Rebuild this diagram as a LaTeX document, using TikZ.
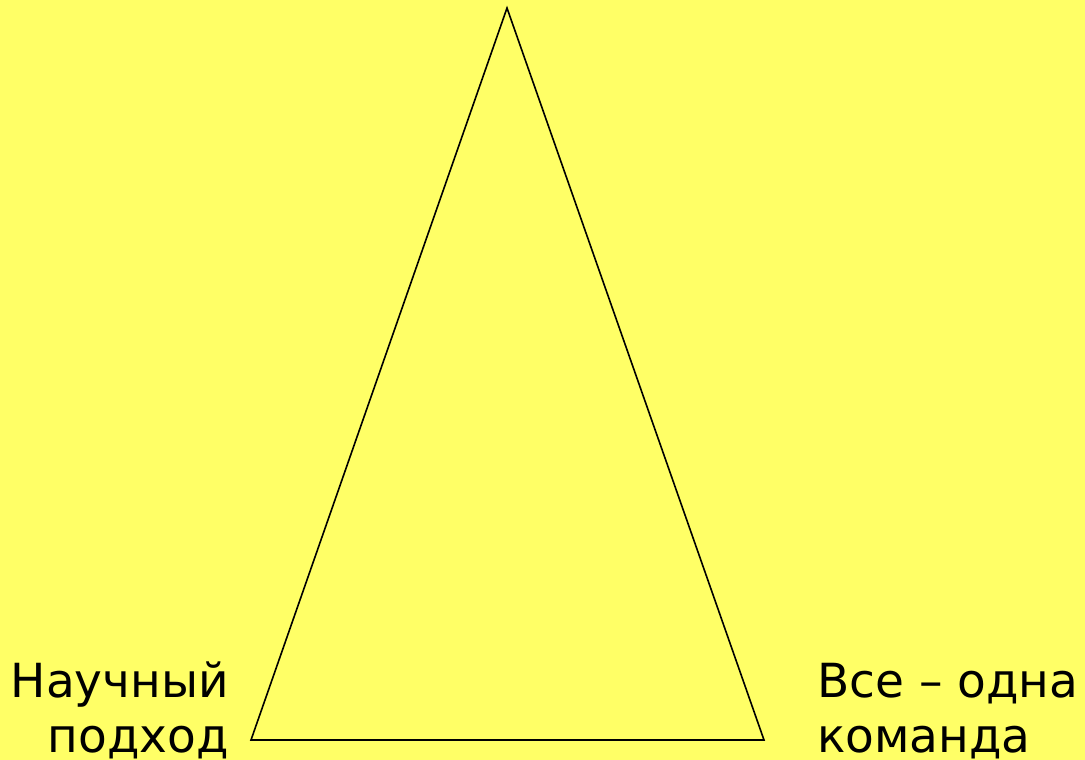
\documentclass[tikz,border=0pt]{standalone}
\usepackage{fontspec}
\setmainfont{DejaVu Sans}
\definecolor{bg}{HTML}{FFFF66}
\tikzset{lbl/.style={font=\fontsize{47}{56}\selectfont, inner sep=0pt, text=black}}
\begin{document}
\begin{tikzpicture}[x=1pt,y=-1pt]
\fill[bg] (0,0) rectangle (1085,760);
\useasboundingbox (0,0) rectangle (1085,760);
\coordinate (top) at (507,8);
\coordinate (bl) at (251,740);
\coordinate (br) at (764,740);
\draw[line width=1.6pt, line join=miter] (top) -- (bl) -- (br) -- cycle;
\node[lbl, anchor=base east] (left1) at (229,697) {Научный};
\node[lbl, anchor=base east] (left2) at (229,752) {подход};
\node[lbl, anchor=base west] (right1) at (817,697) {Все – одна};
\node[lbl, anchor=base west] (right2) at (817,752) {команда};
\end{tikzpicture}
\end{document}
